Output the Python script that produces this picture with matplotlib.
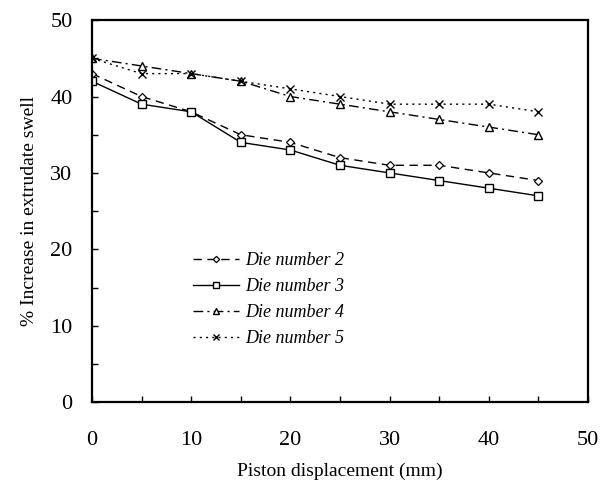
import matplotlib
matplotlib.use("Agg")
import matplotlib.pyplot as plt
from matplotlib.ticker import MultipleLocator

plt.rcParams['font.family'] = ['Liberation Serif', 'DejaVu Serif']

displacement = [0, 5, 10, 15, 20, 25, 30, 35, 40, 45]
die2 = [43, 40, 38, 35, 34, 32, 31, 31, 30, 29]
die3 = [42, 39, 38, 34, 33, 31, 30, 29, 28, 27]
die4 = [45, 44, 43, 42, 40, 39, 38, 37, 36, 35]
die5 = [45, 43, 43, 42, 41, 40, 39, 39, 39, 38]
labels = ["Die number 2", "Die number 3", "Die number 4", "Die number 5"]

fig = plt.figure(figsize=(6.05, 4.91), dpi=100)
ax = fig.add_axes([0.152, 0.181, 0.820, 0.778])

ax.plot(displacement, die2, color='black', lw=1.0, ls=(0, (6, 4)), marker='D',
        ms=4, mfc='white', mec='black', mew=0.9, label=labels[0])
ax.plot(displacement, die3, color='black', lw=1.0, ls='-', marker='s',
        ms=6, mfc='white', mec='black', mew=1.0, label=labels[1])
ax.plot(displacement, die4, color='black', lw=1.0, ls=(0, (7, 3, 1.5, 3)), marker='^',
        ms=6, mfc='white', mec='black', mew=1.0, label=labels[2])
ax.plot(displacement, die5, color='black', lw=1.0, ls=(0, (1.5, 3)), marker='x',
        ms=6, mfc='white', mec='black', mew=1.0, label=labels[3])

ax.set_xlim(0, 50)
ax.set_ylim(0, 50)
ax.xaxis.set_major_locator(MultipleLocator(10))
ax.xaxis.set_minor_locator(MultipleLocator(5))
ax.yaxis.set_major_locator(MultipleLocator(10))
ax.yaxis.set_minor_locator(MultipleLocator(5))
ax.tick_params(which='both', direction='in', length=4, width=1)
ax.tick_params(axis='x', which='major', pad=21, labelsize=16)
ax.tick_params(axis='y', which='major', pad=14, labelsize=16)
for s in ax.spines.values():
    s.set_linewidth(1.6)

ax.set_xlabel("Piston displacement (mm)", fontsize=14, labelpad=9)
ax.set_ylabel("% Increase in extrudate swell", fontsize=14, labelpad=9)

leg = ax.legend(loc='upper left', bbox_to_anchor=(0.17, 0.435), frameon=False,
                prop={'family': ['Liberation Serif'], 'style': 'italic', 'size': 13},
                handlelength=2.6, handletextpad=0.3, labelspacing=0.5,
                markerscale=0.8)

fig.savefig("out.png", dpi=100)
